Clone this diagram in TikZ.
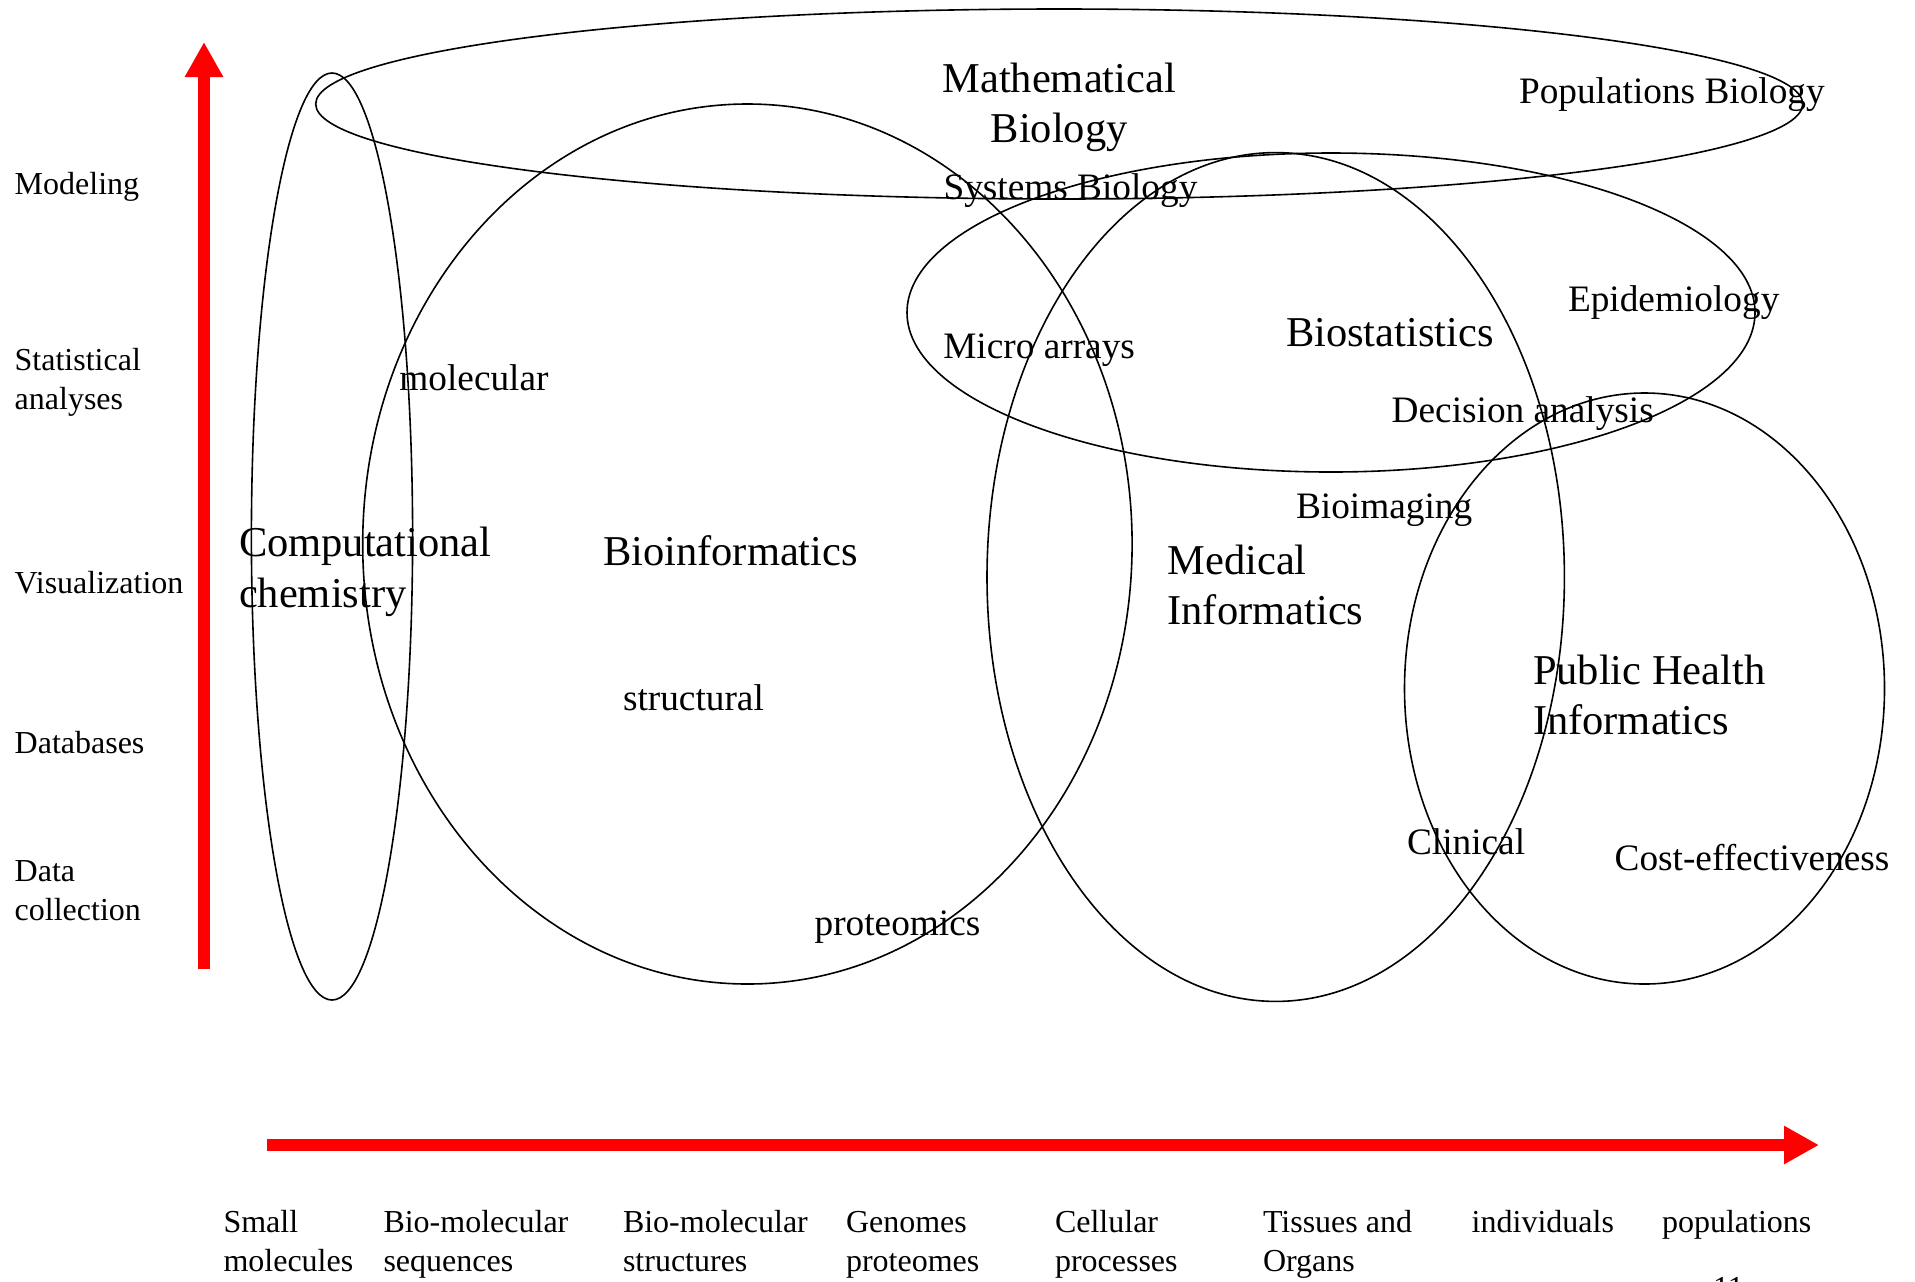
\documentclass[tikz,border=0pt]{standalone}
\usepackage{fontspec}
\setmainfont{Liberation Serif}
\usetikzlibrary{arrows.meta}
\begin{document}
\begin{tikzpicture}[x=0.5pt,y=-0.5pt,
  venn/.style={draw=black, line width=0.8pt},
  axisarrow/.style={draw=red, line width=6pt, -{Triangle[length=17.5pt,width=18pt]}},
  lbl/.style={inner sep=0pt, outer sep=0pt, anchor=base west, font=\fontsize{16pt}{19.5pt}\selectfont},
  mid/.style={inner sep=0pt, outer sep=0pt, anchor=base west, font=\fontsize{18.65pt}{22pt}\selectfont},
  big/.style={inner sep=0pt, outer sep=0pt, anchor=base west, font=\fontsize{21.25pt}{25pt}\selectfont},
]
\useasboundingbox (0,0) rectangle (1915,1281);

% axes
\coordinate (ybot) at (204,969);
\coordinate (ytop) at (204,42);
\coordinate (xleft) at (267,1145);
\coordinate (xright) at (1819,1145);
\draw[axisarrow] (ybot) -- (ytop);
\draw[axisarrow] (xleft) -- (xright);

% ellipses
\coordinate (cComp) at (332,536.5);
\coordinate (cMath) at (1059.2,104);
\coordinate (cBioinf) at (747.4,544);
\coordinate (cMed) at (1275.7,577);
\coordinate (cStat) at (1331,312.5);
\coordinate (cPH) at (1644.5,688.5);
\draw[venn] (cComp) ellipse [x radius=40.3pt, y radius=231.75pt];
\draw[venn] (cMath) ellipse [x radius=371.75pt, y radius=47.5pt];
\draw[venn] (cBioinf) ellipse [x radius=192.35pt, y radius=220pt];
\draw[venn] (cMed) ellipse [x radius=144.35pt, y radius=212.2pt];
\draw[venn] (cStat) ellipse [x radius=212pt, y radius=79.75pt];
\draw[venn] (cPH) ellipse [x radius=120pt, y radius=147.75pt];

% left axis labels
\node[lbl] (mod) at (14.7,194) {Modeling};
\node[lbl] (stat1) at (14.7,370) {Statistical};
\node[lbl] (stat2) at (14.7,409) {analyses};
\node[lbl] (vis) at (14.7,593) {Visualization};
\node[lbl] (db) at (14.7,753) {Databases};
\node[lbl] (dc1) at (14.7,881) {Data};
\node[lbl] (dc2) at (14.7,920) {collection};

% bottom axis labels
\node[lbl] (b1a) at (223.5,1232) {Small};
\node[lbl] (b1b) at (223.5,1271) {molecules};
\node[lbl] (b2a) at (383.5,1232) {Bio-molecular};
\node[lbl] (b2b) at (383.5,1271) {sequences};
\node[lbl] (b3a) at (623,1232) {Bio-molecular};
\node[lbl] (b3b) at (623,1271) {structures};
\node[lbl] (b4a) at (846,1232) {Genomes};
\node[lbl] (b4b) at (846,1271) {proteomes};
\node[lbl] (b5a) at (1055,1232) {Cellular};
\node[lbl] (b5b) at (1055,1271) {processes};
\node[lbl] (b6a) at (1263,1232) {Tissues and};
\node[lbl] (b6b) at (1263,1271) {Organs};
\node[lbl] (b7a) at (1471.7,1232) {individuals};
\node[lbl] (b8a) at (1662,1232) {populations};
\node[lbl] (pgno) at (1713,1298) {11};

% big labels
\node[big, anchor=base] (math1) at (1059.2,92) {Mathematical};
\node[big, anchor=base] (math2) at (1059.2,142) {Biology};
\node[big] (comp1) at (239,556) {Computational};
\node[big] (comp2) at (239,607.5) {chemistry};
\node[big] (bioinf) at (603,565) {Bioinformatics};
\node[big] (biostat) at (1286,346) {Biostatistics};
\node[big] (med1) at (1167.5,574.5) {Medical};
\node[big] (med2) at (1167.5,624.6) {Informatics};
\node[big] (ph1) at (1533,684.5) {Public Health};
\node[big] (ph2) at (1533,734.6) {Informatics};

% medium labels
\node[mid] (popbio) at (1519,103) {Populations Biology};
\node[mid] (sysbio) at (943.5,199) {Systems Biology};
\node[mid] (micro) at (943.3,358.5) {Micro arrays};
\node[mid] (epi) at (1568,311) {Epidemiology};
\node[mid] (dec) at (1391.7,422) {Decision analysis};
\node[mid] (bioim) at (1296,518) {Bioimaging};
\node[mid] (molec) at (399.4,390.6) {molecular};
\node[mid] (struct) at (623,710.6) {structural};
\node[mid] (prot) at (814.6,935) {proteomics};
\node[mid] (clin) at (1407,854.7) {Clinical};
\node[mid] (cost) at (1614.6,870.6) {Cost-effectiveness};
\end{tikzpicture}
\end{document}
